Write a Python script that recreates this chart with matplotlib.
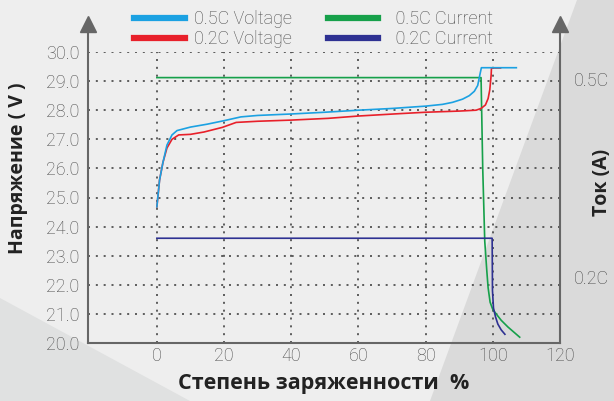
import matplotlib
matplotlib.use('Agg')
import matplotlib.pyplot as plt
from matplotlib.lines import Line2D
from matplotlib.patches import Polygon

# state of charge (%) vs voltage
soc_05v = [0, 0.8, 1.8, 3, 4.5, 6, 10, 15, 20, 25, 30, 40, 50, 60, 70, 80, 85, 88, 91, 93, 94.5, 95.5, 96.3, 96.6, 107]
v_05 = [24.68, 25.6, 26.2, 26.8, 27.15, 27.3, 27.42, 27.52, 27.64, 27.77, 27.82, 27.87, 27.93, 28.0, 28.06, 28.14, 28.2, 28.27, 28.38, 28.5, 28.65, 28.85, 29.3, 29.46, 29.46]

soc_02v = [0, 0.8, 1.8, 3, 4.5, 6.5, 10, 14, 19.5, 23.6, 30, 40, 51, 60, 72, 80, 90, 95, 96.5, 97.8, 98.6, 99.1, 99.5, 99.6, 102.3]
v_02 = [24.68, 25.6, 26.2, 26.7, 27.0, 27.15, 27.17, 27.25, 27.41, 27.58, 27.62, 27.66, 27.72, 27.8, 27.88, 27.93, 27.97, 28.0, 28.06, 28.18, 28.4, 28.7, 29.2, 29.45, 29.45]

# currents, drawn on the voltage scale
soc_05c = [0, 96.5, 97.0, 97.6, 98.2, 98.6, 99.2, 100, 101, 102.5, 104.5, 106.5, 108]
c_05 = [29.12, 29.12, 26.0, 23.5, 22.5, 21.9, 21.4, 21.15, 21.0, 20.78, 20.55, 20.35, 20.2]

soc_02c = [0, 99.8, 99.9, 100.2, 100.8, 101.5, 102.5, 103.6]
c_02 = [23.6, 23.6, 21.8, 21.2, 20.9, 20.65, 20.45, 20.3]

x_ticks = [0, 20, 40, 60, 80, 100, 120]
y_ticks = [20, 21, 22, 23, 24, 25, 26, 27, 28, 29, 30]
right_labels = ['0.5C', '0.2C']
right_pos = [29.0, 22.2]

c_blue = '#1ba1e2'
c_red = '#e8202a'
c_green = '#16a04a'
c_navy = '#2e3192'
grey = '#4a4a4a'
thin = dict(family='Roboto', fontweight='light')

fig = plt.figure(figsize=(6.14, 4.01), dpi=100, facecolor='#eeeeee')
# background shading
fig.patches.append(Polygon([(430/614, 0), (1, 0), (1, 1), (577/614, 1)],
                           closed=True, transform=fig.transFigure,
                           facecolor='#dadada', edgecolor='none', zorder=-5))
fig.patches.append(Polygon([(0, 0), (0, 103/401), (190/614, 0)],
                           closed=True, transform=fig.transFigure,
                           facecolor='#e0e1e1', edgecolor='none', zorder=-5))

ax = fig.add_axes([88/614, 58/401, 472/614, 291/401])
ax.patch.set_alpha(0)

ax.plot(soc_05c, c_05, color=c_green, lw=1.2)
ax.plot(soc_02c, c_02, color=c_navy, lw=1.2)
ax.plot(soc_02v, v_02, color=c_red, lw=1.2)
ax.plot(soc_05v, v_05, color=c_blue, lw=1.2)

ax.set_xlim(-20.5, 120)
ax.set_ylim(20, 30)
ax.set_xticks(x_ticks)
ax.set_xticklabels([str(v) for v in x_ticks], **thin)
ax.set_yticks(y_ticks)
ax.set_yticklabels(['%.1f' % v for v in y_ticks], **thin)
ax.tick_params(length=0, labelsize=13, colors=grey, pad=6)
ax.tick_params(axis='x', pad=3)
ax.grid(True, linestyle=(0, (1.2, 3.5)), color='#444444', lw=1.2)

for s in ['top', 'left', 'right']:
    ax.spines[s].set_visible(False)
ax.spines['bottom'].set_color('#666666')
ax.spines['bottom'].set_linewidth(1.5)

# axis lines with arrow heads
for xa in [0, 1]:
    ax.plot([xa, xa], [0, 1.08], transform=ax.transAxes, color='#666666', lw=1.5, clip_on=False)
    ax.plot([xa], [1.095], transform=ax.transAxes, marker='^', markersize=12,
            color='#666666', clip_on=False)

for lab, yv in zip(right_labels, right_pos):
    ax.text(1.03, yv, lab, transform=ax.get_yaxis_transform(), va='center', ha='left',
            fontsize=13, color=grey, **thin)

ax.set_xlabel('Степень заряженности  %', fontsize=15.5, fontweight='bold',
              family='Open Sans', color='#222222', labelpad=6)
ax.set_ylabel('Напряжение ( V )', fontsize=14, fontweight='bold',
              family='Open Sans', color='#222222')
ax.yaxis.set_label_coords(-0.128, 0.6)
fig.text(0.981, 0.545, 'Ток (A)', rotation=90, ha='center', va='center', fontsize=14,
         fontweight='bold', family='Open Sans', color='#222222')

handles = [Line2D([], [], color=c_blue, lw=4.5),
           Line2D([], [], color=c_red, lw=4.5),
           Line2D([], [], color=c_green, lw=4.5),
           Line2D([], [], color=c_navy, lw=4.5)]
labels = ['0.5C Voltage', '0.2C Voltage', '  0.5C Current', '  0.2C Current']
fig.legend(handles, labels, ncol=2, loc='upper left', bbox_to_anchor=(118/614, 1.015),
           frameon=False, prop=dict(family='Roboto', weight='light', size=13),
           labelcolor=grey, handlelength=2.8, columnspacing=2.0,
           labelspacing=0.12, handletextpad=0.5)

fig.savefig('out.png', dpi=100, facecolor=fig.get_facecolor())
